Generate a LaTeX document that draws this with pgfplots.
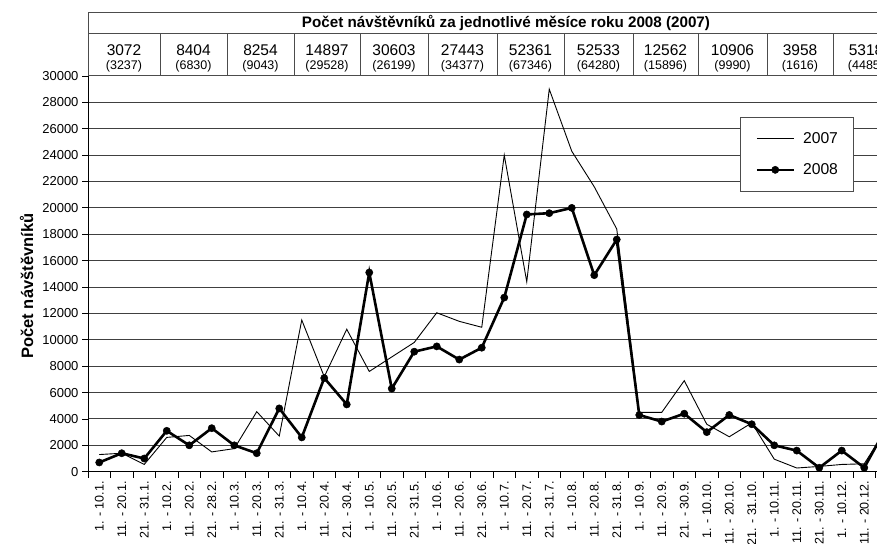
\documentclass[border=0pt]{standalone}
\usepackage{fontspec}
\setmainfont{Liberation Sans}
\usepackage{pgfplots}
\usepackage{pgfplotstable}
\pgfplotsset{compat=1.18}
\pgfplotstableread{
i y2007 y2008
0 1300 700
1 1400 1400
2 550 1000
3 2600 3100
4 2750 2000
5 1500 3300
6 1750 2000
7 4550 1400
8 2700 4800
9 11500 2600
10 7200 7100
11 10800 5100
12 7600 15100
13 8700 6300
14 9800 9100
15 12050 9500
16 11400 8500
17 10950 9400
18 24000 13200
19 14400 19500
20 29000 19600
21 24300 20000
22 21600 14900
23 18400 17600
24 4500 4300
25 4500 3800
26 6900 4400
27 3600 3000
28 2650 4300
29 3700 3600
30 950 2000
31 280 1600
32 400 300
33 550 1600
34 600 300
35 3300 3400
}\visits
\begin{document}
\begin{tikzpicture}[x=1pt,y=1pt]
\useasboundingbox (0,0) rectangle (877,543);
\begin{scope}
\clip (0,0) rectangle (877,543);
\begin{axis}[
  at={(88pt,71.3pt)}, anchor=south west,
  scale only axis, width=810pt, height=395.7pt,
  xmin=-0.5, xmax=35.5, ymin=0, ymax=30000,
  axis lines*=left,
  axis line style={black, line width=1pt},
  tick align=outside, major tick length=6pt,
  tick style={black, line width=0.8pt},
  xtick={-0.5,0.5,...,35.5},
  x tick label as interval,
  xticklabels={1. - 10.1.,11. - 20.1.,21. - 31.1.,1. - 10.2.,11. - 20.2.,21. - 28.2.,1. - 10.3.,11. - 20.3.,21. - 31.3.,1. - 10.4.,11. - 20.4.,21. - 30.4.,1. - 10.5.,11. - 20.5.,21. - 31.5.,1. - 10.6.,11. - 20.6.,21. - 30.6.,1. - 10.7.,11. - 20.7.,21. - 31.7.,1. - 10.8.,11. - 20.8.,21. - 31.8.,1. - 10.9.,11. - 20.9.,21. - 30.9.,1. - 10.10.,11. - 20.10.,21. - 31.10.,1. - 10.11.,11. - 20.11.,21. - 30.11.,1. - 10.12.,11. - 20.12.,21. - 31.12.},
  xticklabel style={rotate=90, anchor=east, font=\fontsize{12.5}{12.5}\selectfont},
  ytick={0,2000,...,30000},
  scaled y ticks=false,
  yticklabel style={font=\fontsize{13}{13}\selectfont},
  /pgf/number format/assume math mode=true,
  /pgf/number format/set thousands separator={},
  ymajorgrids,
  grid style={black!75, line width=1pt},
  ylabel={Počet návštěvníků},
  ylabel style={font=\bfseries\fontsize{16.5}{17}\selectfont, at={(axis description cs:-0.0757,0.469)}, anchor=center},
  legend cell align=left,
  legend style={at={(axis description cs:0.805,0.897)}, anchor=north west,
    draw=black!70, line width=0.8pt, fill=white,
    font=\fontsize{15.7}{16}\selectfont,
    nodes={inner sep=0pt},
    inner xsep=15pt, inner ysep=15pt, row sep=19pt,
    /tikz/every odd column/.style={column sep=8pt}},
  legend image code/.code={\draw[mark repeat=2,mark phase=2,#1] plot coordinates {(0pt,0pt) (18.5pt,0pt) (37pt,0pt)};},
]
\addplot[black, line width=0.9pt, no markers] table[x=i, y=y2007] {\visits};
\addlegendentry{2007}
\addplot[black, line width=2.6pt, mark=*, mark size=3.6pt, mark options={solid, line width=0.5pt}] table[x=i, y=y2008] {\visits};
\addlegendentry{2008}
\end{axis}
\draw[black!70, line width=1pt] (88,467) rectangle (905,530.7);
\draw[black!70, line width=1pt] (88,509.7) -- (905,509.7);
\foreach \x in {160,227,294,360,428,497,564,633,698,767,833}
  \draw[black!70, line width=1pt] (\x,467) -- (\x,509.7);
\node[font=\bfseries\fontsize{15.2}{15}\selectfont] at (506,520) {Počet návštěvníků za jednotlivé měsíce roku 2008 (2007)};
\foreach \cx/\a/\b in {124/3072/3237, 193.5/8404/6830, 260.5/8254/9043, 327/14897/29528, 394/30603/26199, 462.5/27443/34377, 530.5/52361/67346, 598.5/52533/64280, 665.5/12562/15896, 732.5/10906/9990, 800/3958/1616, 866/5318/4485}{
  \node[font=\fontsize{15.5}{15}\selectfont] at (\cx,493) {\a};
  \node[font=\fontsize{12.5}{12}\selectfont] at (\cx,477) {(\b)};
}
\end{scope}
\end{tikzpicture}
\end{document}
